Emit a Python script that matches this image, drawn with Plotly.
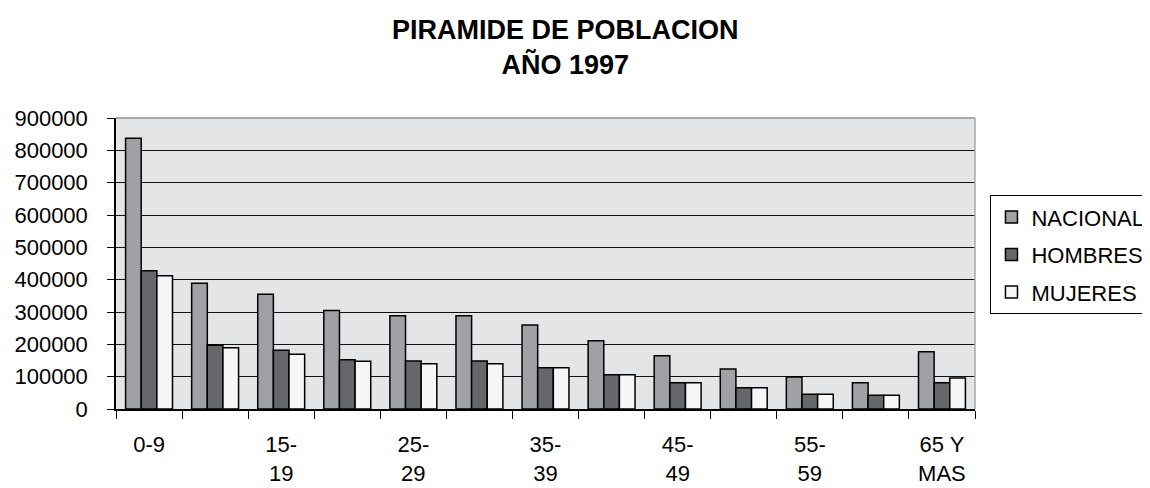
import plotly.graph_objects as go

categories = ["0-9", "10-14", "15-19", "20-24", "25-29", "30-34", "35-39",
              "40-44", "45-49", "50-54", "55-59", "60-64", "65 Y MAS"]
tick_labels = ["0-9", "", "15-<br>19", "", "25-<br>29", "", "35-<br>39",
               "", "45-<br>49", "", "55-<br>59", "", "65 Y<br>MAS"]
nacional = [837000, 388700, 354600, 305000, 288700, 288700, 259800,
            211300, 165000, 123700, 99000, 81400, 177300]
hombres = [427800, 197000, 181400, 152600, 148400, 148400, 127800,
           106200, 81400, 66000, 45400, 42300, 81400]
mujeres = [412000, 189700, 169000, 147400, 140200, 140200, 127800,
           106200, 81400, 66000, 45400, 42300, 95900]
series_names = ["NACIONAL", "HOMBRES", "MUJERES"]
series_colors = ["#a0a1a5", "#66676b", "#f6f6f6"]

FONT = "Liberation Sans, Arial, sans-serif"

fig = go.Figure()
for name, vals, col in zip(series_names, [nacional, hombres, mujeres], series_colors):
    fig.add_trace(go.Bar(
        x=categories, y=vals, name=name, legendgroup=name,
        marker=dict(color=col, line=dict(color="#000000", width=1.5)),
    ))

# page body adds an 8px offset, so the figure is 8px smaller and margins shifted
fig.update_layout(
    width=1142, height=480,
    margin=dict(l=108, r=175, t=110, b=79, autoexpand=False),
    paper_bgcolor="white",
    plot_bgcolor="#e4e5e7",
    barmode="group", bargap=0.29, bargroupgap=0,
    font=dict(family=FONT, color="#000000", size=20),
    title=dict(
        text="<b>PIRAMIDE DE POBLACION<br>AÑO 1997</b>",
        x=0.488, xanchor="center", y=0.936, yanchor="top",
        font=dict(family=FONT, size=27, color="#000000"),
    ),
    showlegend=True,
    legend=dict(
        x=1.018, xanchor="left", y=0.735, yanchor="top",
        bgcolor="white", bordercolor="#000000", borderwidth=1,
        font=dict(family=FONT, size=22, color="#000000"),
        traceorder="grouped", tracegroupgap=6,
        itemwidth=30,
    ),
    xaxis=dict(
        type="category", categoryorder="array", categoryarray=categories,
        range=[-0.5, 12.5],
        tickmode="array", tickvals=categories, ticktext=tick_labels,
        tickson="boundaries", ticks="outside", ticklen=8, tickwidth=1.3,
        tickcolor="#000000",
        showline=True, linecolor="#000000", linewidth=1.5,
        showgrid=False, zeroline=False, automargin=False,
        tickfont=dict(family=FONT, size=22, color="#000000"),
        ticklabelstandoff=15,
    ),
    xaxis2=dict(
        type="category", categoryorder="array", categoryarray=categories,
        range=[-0.5, 12.5], overlaying="x", anchor="y", side="bottom",
        tickmode="array", tickvals=categories,
        tickson="boundaries", ticks="inside", ticklen=8, tickwidth=1.3,
        tickcolor="#000000", showticklabels=False,
        showline=False, showgrid=False, zeroline=False, automargin=False,
    ),
    yaxis=dict(
        range=[0, 900000], tickmode="linear", tick0=0, dtick=100000,
        tickformat="d",
        ticks="outside", ticklen=7, tickwidth=1.3, tickcolor="#000000",
        showline=True, linecolor="#000000", linewidth=1.5,
        showgrid=True, gridcolor="#111111", gridwidth=1.3,
        zeroline=False, automargin=False,
        tickfont=dict(family=FONT, size=22, color="#000000"),
        ticklabelstandoff=15,
    ),
    shapes=[
        dict(type="line", xref="x domain", yref="y domain", x0=0, x1=1, y0=1, y1=1,
             line=dict(color="#a8a8a8", width=2), layer="above"),
        dict(type="line", xref="x domain", yref="y domain", x0=1, x1=1, y0=0, y1=1,
             line=dict(color="#a8a8a8", width=1.5), layer="above"),
    ],
)

fig.write_html("out.html")
